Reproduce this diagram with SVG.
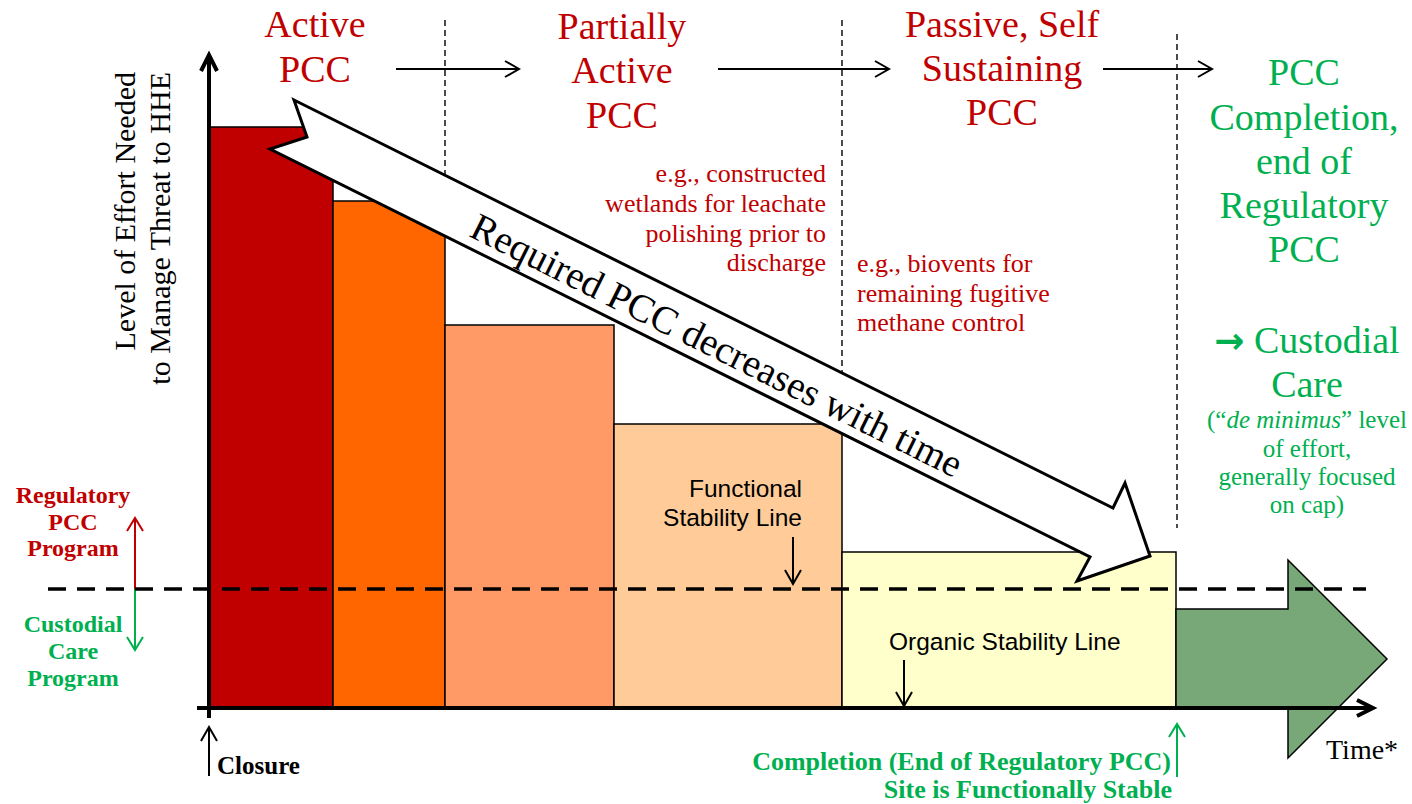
<svg xmlns="http://www.w3.org/2000/svg" width="1412" height="804" viewBox="0 0 1412 804">
  <defs>
    <style>
      .serif { font-family: "Liberation Serif", "Times New Roman", serif; }
      .sans { font-family: "Liberation Sans", Arial, sans-serif; }
      .phase { font-size: 38px; fill: #C00000; text-anchor: middle; }
      .done { font-size: 38px; fill: #00B050; text-anchor: middle; }
      .small-g { font-size: 25px; fill: #00B050; text-anchor: middle; }
      .note { font-size: 26px; fill: #C00000; }
      .prog { font-size: 24px; font-weight: bold; text-anchor: middle; }
      .red { fill: #C00000; }
      .green { fill: #00B050; }
      .bar { stroke: #000; stroke-width: 1.5; }
      .vdash { stroke: #000; stroke-width: 1.4; stroke-dasharray: 6 4; fill: none; }
      .thin { stroke: #000; stroke-width: 2; fill: none; }
      .axis { stroke: #000; stroke-width: 4; fill: none; }
    </style>
    <marker id="tipK" markerUnits="userSpaceOnUse" viewBox="-16 -10 18 20" refX="0" refY="0" markerWidth="18" markerHeight="20" orient="auto" overflow="visible">
      <path d="M-14,-8 L0,0 L-14,8" fill="none" stroke="#000" stroke-width="2"/>
    </marker>
    <marker id="tipR" markerUnits="userSpaceOnUse" viewBox="-16 -10 18 20" refX="0" refY="0" markerWidth="18" markerHeight="20" orient="auto" overflow="visible">
      <path d="M-13,-8 L0,0 L-13,8" fill="none" stroke="#C00000" stroke-width="2"/>
    </marker>
    <marker id="tipG" markerUnits="userSpaceOnUse" viewBox="-16 -10 18 20" refX="0" refY="0" markerWidth="18" markerHeight="20" orient="auto" overflow="visible">
      <path d="M-13,-8 L0,0 L-13,8" fill="none" stroke="#00B050" stroke-width="2"/>
    </marker>
  </defs>

  <rect width="1412" height="804" fill="#fff"/>

  <!-- effort bars, one per stage -->
  <g id="bar-active">
    <rect class="bar" x="209" y="127" width="124" height="581" fill="#C00000"/>
  </g>
  <g id="bar-active-2">
    <rect class="bar" x="333" y="201" width="112" height="507" fill="#FF6600"/>
  </g>
  <g id="bar-partial">
    <rect class="bar" x="445" y="325" width="169" height="383" fill="#FF9966"/>
  </g>
  <g id="bar-partial-2">
    <rect class="bar" x="614" y="424" width="228" height="284" fill="#FFCC99"/>
  </g>
  <g id="bar-passive">
    <rect class="bar" x="842" y="552" width="334" height="156" fill="#FFFFCC"/>
  </g>
  <g id="custodial-arrow">
    <polygon points="1176,609 1288,609 1288,560 1387,659 1288,758 1288,708 1176,708" fill="#78A878" stroke="#000" stroke-width="1.5"/>
  </g>

  <!-- stage separators -->
  <g id="separators">
    <line class="vdash" x1="445" y1="20" x2="445" y2="201"/>
    <line class="vdash" x1="842" y1="20" x2="842" y2="424"/>
    <line class="vdash" x1="1177" y1="34" x2="1177" y2="528"/>
  </g>

  <!-- big trend arrow -->
  <g id="trend-arrow">
    <polygon points="294,100 1113,508 1125,483 1150,556 1077,581 1090,557 270,149 307,137" fill="#fff" stroke="#000" stroke-width="3" stroke-linejoin="miter"/>
    <text class="serif" font-size="39" text-anchor="middle" transform="translate(711,357) rotate(26.47)">Required PCC decreases with time</text>
  </g>

  <!-- connectors -->
  <g id="connectors">
    <line class="thin" x1="396" y1="69" x2="519" y2="69" marker-end="url(#tipK)"/>
    <line class="thin" x1="718" y1="69" x2="889" y2="69" marker-end="url(#tipK)"/>
    <line class="thin" x1="1103" y1="69" x2="1212" y2="69" marker-end="url(#tipK)"/>
    <line x1="135" y1="589" x2="135" y2="518" stroke="#C00000" stroke-width="2" marker-end="url(#tipR)"/>
    <line x1="135" y1="589" x2="135" y2="650" stroke="#00B050" stroke-width="2" marker-end="url(#tipG)"/>
    <line class="thin" x1="793" y1="537" x2="793" y2="584" marker-end="url(#tipK)"/>
    <line class="thin" x1="904" y1="660" x2="904" y2="706" marker-end="url(#tipK)"/>
    <line class="thin" x1="209" y1="776" x2="209" y2="727" marker-end="url(#tipK)"/>
    <line x1="1177" y1="777" x2="1177" y2="724" stroke="#00B050" stroke-width="2" marker-end="url(#tipG)"/>
  </g>

  <!-- stability threshold -->
  <g id="threshold">
    <line x1="48" y1="589" x2="1366" y2="589" stroke="#000" stroke-width="3.5" stroke-dasharray="18 11"/>
  </g>

  <!-- axes -->
  <g id="axes">
    <line class="axis" x1="209" y1="718" x2="209" y2="56"/>
    <polyline class="axis" points="201,71 209,55 217,71"/>
    <line class="axis" x1="197" y1="708" x2="1371" y2="708"/>
    <polyline class="axis" points="1357,700 1373,708 1357,716"/>
  </g>

  <g id="y-label" class="serif" font-size="30" text-anchor="end">
    <text transform="translate(135,72) rotate(-90)">Level of Effort Needed</text>
    <text transform="translate(170,72) rotate(-90)">to Manage Threat to HHE</text>
  </g>

  <g id="stage-active" class="serif phase">
    <text x="315" y="37">Active</text>
    <text x="315" y="82">PCC</text>
  </g>
  <g id="stage-partial" class="serif phase">
    <text x="622" y="39">Partially</text>
    <text x="622" y="83">Active</text>
    <text x="622" y="128">PCC</text>
  </g>
  <g id="stage-passive" class="serif phase">
    <text x="1002" y="37">Passive, Self</text>
    <text x="1002" y="81">Sustaining</text>
    <text x="1002" y="125">PCC</text>
  </g>
  <g id="stage-complete" class="serif">
    <text class="done" x="1304" y="85">PCC</text>
    <text class="done" x="1304" y="130">Completion,</text>
    <text class="done" x="1304" y="174">end of</text>
    <text class="done" x="1304" y="218">Regulatory</text>
    <text class="done" x="1304" y="262">PCC</text>
    <text class="done" x="1307" y="353"><tspan font-family="'DejaVu Sans', sans-serif" font-weight="bold" font-size="36">→</tspan> Custodial</text>
    <text class="done" x="1307" y="397">Care</text>
    <text class="small-g" x="1307" y="428">(“<tspan font-style="italic">de minimus</tspan>” level</text>
    <text class="small-g" x="1307" y="457">of effort,</text>
    <text class="small-g" x="1307" y="485">generally focused</text>
    <text class="small-g" x="1307" y="513">on cap)</text>
  </g>

  <g id="example-partial" class="serif note" text-anchor="end">
    <text x="826" y="182">e.g., constructed</text>
    <text x="826" y="212">wetlands for leachate</text>
    <text x="826" y="242">polishing prior to</text>
    <text x="826" y="271">discharge</text>
  </g>
  <g id="example-passive" class="serif note">
    <text x="857" y="272">e.g., biovents for</text>
    <text x="857" y="302">remaining fugitive</text>
    <text x="857" y="331">methane control</text>
  </g>

  <g id="program-regulatory" class="serif prog red">
    <text x="73" y="503">Regulatory</text>
    <text x="73" y="530">PCC</text>
    <text x="73" y="556">Program</text>
  </g>
  <g id="program-custodial" class="serif prog green">
    <text x="73" y="632">Custodial</text>
    <text x="73" y="659">Care</text>
    <text x="73" y="686">Program</text>
  </g>

  <g id="functional-line" class="sans" font-size="24.5" text-anchor="end">
    <text x="802" y="497">Functional</text>
    <text x="802" y="526">Stability Line</text>
  </g>
  <g id="organic-line" class="sans" font-size="24.5">
    <text x="889" y="650">Organic Stability Line</text>
  </g>

  <g id="closure">
    <text class="serif" x="217" y="774" font-size="25" font-weight="bold">Closure</text>
  </g>
  <g id="completion" class="serif green" font-size="26" font-weight="bold" text-anchor="end">
    <text x="1171" y="770">Completion (End of Regulatory PCC)</text>
    <text x="1172" y="798">Site is Functionally Stable</text>
  </g>
  <g id="time-label">
    <text class="serif" x="1326" y="759" font-size="28">Time*</text>
  </g>
</svg>
